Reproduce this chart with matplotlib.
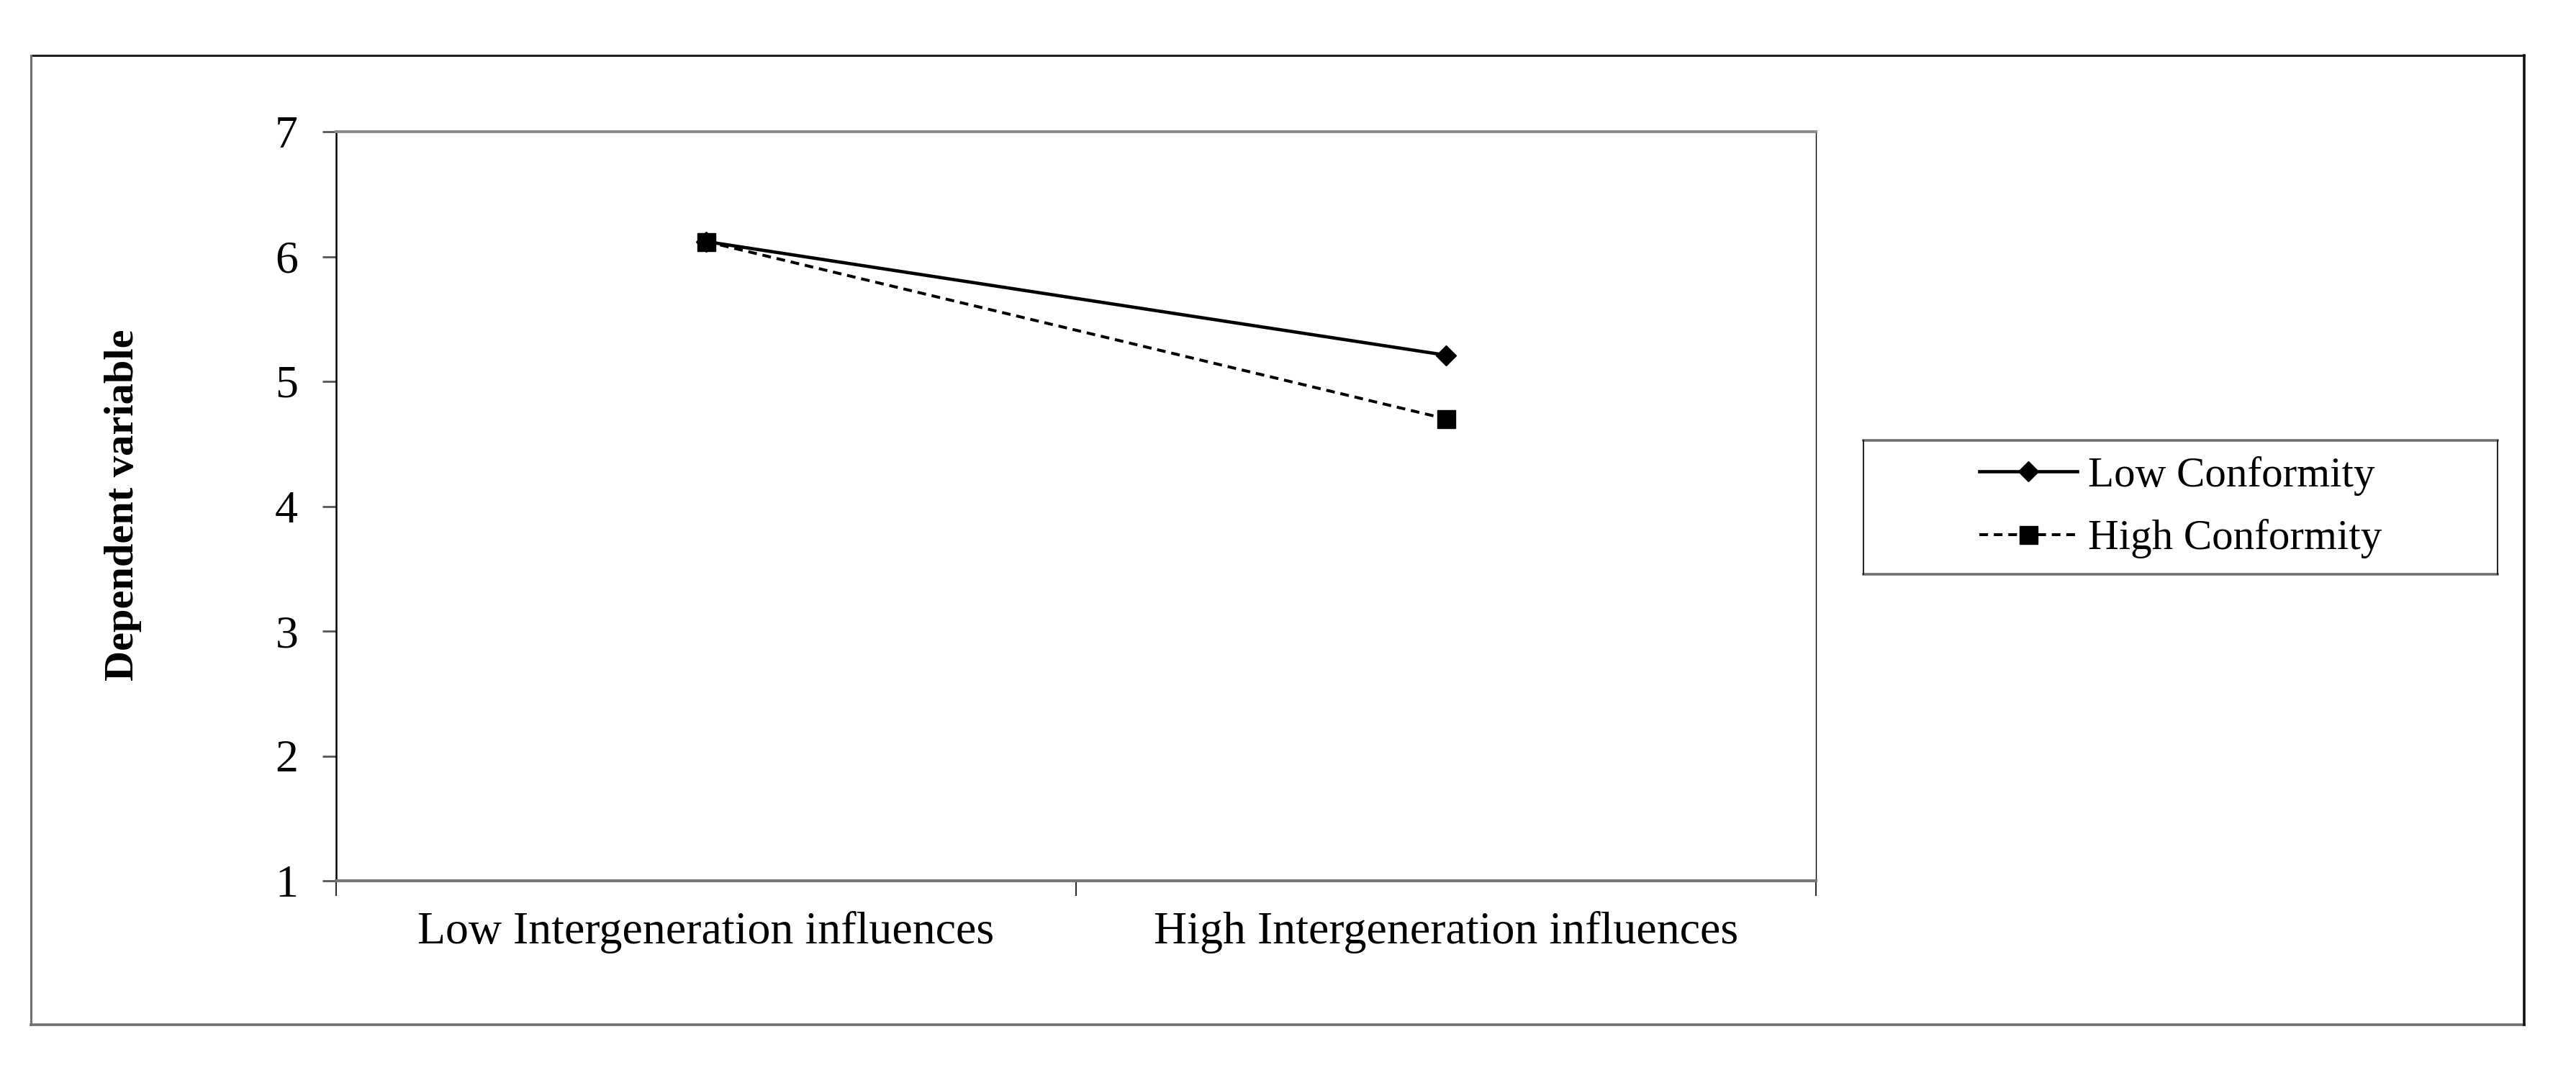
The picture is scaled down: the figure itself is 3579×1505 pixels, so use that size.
import matplotlib
matplotlib.use("Agg")
import matplotlib.pyplot as plt
from matplotlib.lines import Line2D

categories = ["Low Intergeneration influences", "High Intergeneration influences"]
low_conformity = [6.12, 5.21]
high_conformity = [6.12, 4.70]
series_names = ["Low Conformity", "High Conformity"]
y_ticks = [1, 2, 3, 4, 5, 6, 7]

plt.rcParams['font.family'] = ['Liberation Serif', 'DejaVu Serif']

W, H = 3580, 1505
fig = plt.figure(figsize=(W / 100, H / 100), dpi=100)

def fx(px):
    return px / W

def fy(py):
    return 1 - py / H

# outer frame
fig.add_artist(Line2D([fx(43), fx(3507)], [fy(77), fy(77)], color='#202020', lw=2.2))
fig.add_artist(Line2D([fx(43), fx(3507)], [fy(1424), fy(1424)], color='#707070', lw=2.6))
fig.add_artist(Line2D([fx(43), fx(43)], [fy(77), fy(1424)], color='#707070', lw=2.2))
fig.add_artist(Line2D([fx(3507), fx(3507)], [fy(77), fy(1424)], color='#101010', lw=2.6))

ax = fig.add_axes([fx(467), fy(1224), fx(2523) - fx(467), fy(183) - fy(1224)])
x = list(range(len(categories)))
ax.plot(x, low_conformity, color='black', lw=3.3, marker='D', markersize=14,
        label=series_names[0])
ax.plot(x, high_conformity, color='black', lw=2.9, dashes=(3, 2), marker='s',
        markersize=18, label=series_names[1])

ax.set_xlim(-0.5, len(categories) - 0.5)
ax.set_ylim(1, 7)
ax.set_yticks(y_ticks)
ax.set_xticks(x)
ax.set_xticklabels(categories, fontsize=46)
ax.set_xticks([-0.5, 0.5, 1.5], minor=True)
ax.tick_params(axis='x', which='major', length=0, pad=30)
ax.tick_params(axis='x', which='minor', length=15, width=1.2, direction='out', color='black')
ax.tick_params(axis='y', length=14, width=2.0, pad=24, labelsize=46, color='#555555')

ax.spines['left'].set_color('black')
ax.spines['left'].set_linewidth(1.8)
ax.spines['right'].set_color('black')
ax.spines['right'].set_linewidth(1.0)
ax.spines['top'].set_color('#888888')
ax.spines['top'].set_linewidth(2.8)
ax.spines['bottom'].set_color('#777777')
ax.spines['bottom'].set_linewidth(3.0)

fig.text(fx(171), fy(702), "Dependent variable", rotation=90, fontsize=42,
         fontweight='bold', ha='center', va='center')

# legend box
lx0, lx1, ly0, ly1 = 2589, 3470, 612, 798
fig.add_artist(Line2D([fx(lx0), fx(lx1)], [fy(ly0), fy(ly0)], color='#707070', lw=2.6))
fig.add_artist(Line2D([fx(lx0), fx(lx1)], [fy(ly1), fy(ly1)], color='#707070', lw=2.6))
fig.add_artist(Line2D([fx(lx0), fx(lx0)], [fy(ly0), fy(ly1)], color='#202020', lw=1.4))
fig.add_artist(Line2D([fx(lx1), fx(lx1)], [fy(ly0), fy(ly1)], color='#202020', lw=1.4))

fig.legend(loc='center left', bbox_to_anchor=(fx(2750), fy(705)), frameon=False,
           fontsize=42.5, handlelength=2.3, handletextpad=0.25, labelspacing=0.55,
           borderpad=0, borderaxespad=0)

fig.savefig("out.png", dpi=100)
